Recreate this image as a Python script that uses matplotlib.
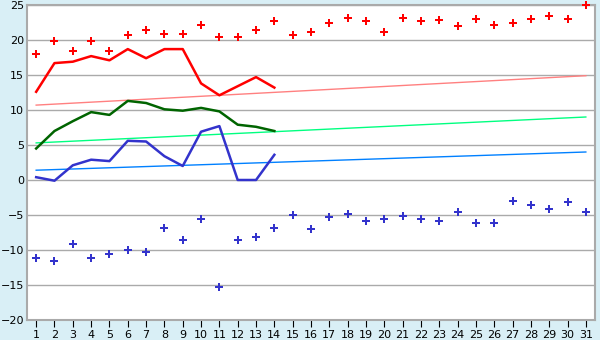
import matplotlib.pyplot as plt
import numpy as np

days = np.arange(1, 32)

# daily maximum / minimum (points)
t_max = [18.0, 19.8, 18.4, 19.8, 18.4, 20.7, 21.5, 20.8, 20.8, 22.2,
         20.4, 20.4, 21.4, 22.7, 20.7, 21.2, 22.4, 23.2, 22.7, 21.2,
         23.2, 22.7, 22.8, 22.0, 23.0, 22.1, 22.5, 23.0, 23.5, 23.0, 25.0]
t_min = [-11.2, -11.6, -9.2, -11.2, -10.5, -10.0, -10.3, -6.9, -8.6, -5.6,
         -15.3, -8.6, -8.2, -6.8, -5.0, -7.0, -5.3, -4.8, -5.8, -5.5,
         -5.2, -5.6, -5.8, -4.6, -6.2, -6.2, -3.0, -3.6, -4.2, -3.2, -4.5]

# measured lines, days 1-14
days_meas = np.arange(1, 15)
line_max = [12.6, 16.7, 16.9, 17.7, 17.1, 18.7, 17.4, 18.7, 18.7, 13.8, 12.1, 13.4, 14.7, 13.2]
line_avg = [4.5, 7.0, 8.4, 9.7, 9.3, 11.3, 11.0, 10.1, 9.9, 10.3, 9.8, 7.9, 7.6, 7.0]
line_min = [0.4, -0.1, 2.1, 2.9, 2.7, 5.6, 5.5, 3.4, 2.0, 6.9, 7.7, 0.0, 0.0, 3.6]

# long-term normals (start, end)
norm_max = [10.7, 14.9]
norm_avg = [5.3, 9.0]
norm_min = [1.4, 4.0]

bg = '#d9eff6'
fig = plt.figure(figsize=(6, 3.4), dpi=100, facecolor=bg)
ax = fig.add_axes([27/600, 20/340, 568/600, 315/340])
ax.set_facecolor('white')

ax.plot([1, 31], norm_max, color='#ff8080', lw=1)
ax.plot([1, 31], norm_avg, color='#00ff80', lw=1)
ax.plot([1, 31], norm_min, color='#0080ff', lw=1)

ax.plot(days_meas, line_max, color='#ff0000', lw=1.8)
ax.plot(days_meas, line_avg, color='#006400', lw=1.8)
ax.plot(days_meas, line_min, color='#3333cc', lw=1.8)

ax.plot(days, t_max, ls='none', marker='P', ms=6, color='#ff0000', mew=0, clip_on=False, zorder=5)
ax.plot(days, t_min, ls='none', marker='P', ms=6, color='#3333cc', mew=0, clip_on=False, zorder=5)

ax.set_xlim(0.5, 31.5)
ax.set_ylim(-20, 25)
ax.set_xticks(days)
ax.set_yticks(np.arange(-20, 26, 5))
ax.grid(axis='y', color='#aaaaaa', lw=1)
ax.set_axisbelow(True)
for s in ax.spines.values():
    s.set_color('#aaaaaa')
    s.set_linewidth(1.5)
ax.tick_params(axis='x', length=5, color='black', labelsize=8, pad=2)
ax.tick_params(axis='y', length=0, labelsize=8, pad=2)

fig.savefig('out.png', dpi=100, facecolor=bg)
